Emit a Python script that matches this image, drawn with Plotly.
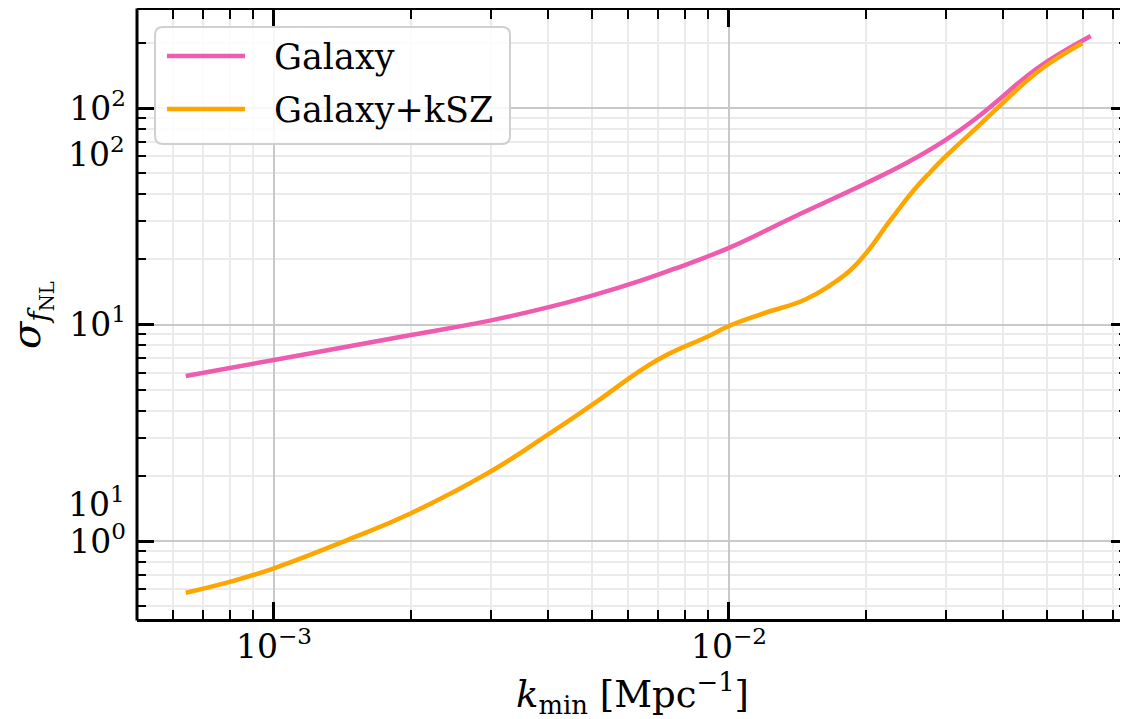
import plotly.graph_objects as go
import numpy as np

# ---- data ----
k_galaxy = [6.40e-4, 1.0e-3, 2.0e-3, 3.0e-3, 4.0e-3, 5.0e-3, 6.4e-3, 7.57e-3, 1.0e-2,
            1.366e-2, 2.0e-2, 2.466e-2, 2.99e-2, 3.455e-2, 3.99e-2, 4.45e-2, 5.0e-2, 6.24e-2]
sigma_galaxy = [5.78, 6.86, 8.94, 10.45, 12.0, 13.6, 15.95, 18.05, 22.6,
                30.9, 44.9, 56.0, 71.1, 88.0, 112.8, 137.0, 163.7, 215.0]

k_ksz = [6.40e-4, 8.03e-4, 1.0e-3, 1.449e-3, 2.0e-3, 3.0e-3, 4.0e-3, 5.0e-3,
         6.96e-3, 8.96e-3, 1.0e-2, 1.194e-2, 1.463e-2, 1.673e-2, 1.851e-2, 2.0e-2,
         2.266e-2, 2.55e-2, 2.775e-2, 2.99e-2, 3.455e-2, 3.99e-2, 4.45e-2, 5.0e-2, 5.976e-2]
sigma_ksz = [0.577, 0.649, 0.748, 1.01, 1.343, 2.1, 3.1, 4.25,
             6.86, 8.78, 9.84, 11.27, 12.98, 15.22, 17.85, 21.3,
             30.4, 41.8, 50.8, 59.6, 79.1, 105.1, 130.0, 158.0, 199.0]

series_names = ["Galaxy", "Galaxy+kSZ"]
series_colors = ["#EF5BAE", "#FFA500"]

x_major = [1e-3, 1e-2]
x_major_text = ["10<sup>−3</sup>", "10<sup>−2</sup>"]
y_major = [1, 10, 100]
y_major_text = ["10<sup>0</sup>", "10<sup>1</sup>", "10<sup>2</sup>"]
# extra (odd) y labels present in the reference
y_extra_vals = [1.5, 62.5]
y_extra_text = ["10<sup>1</sup>", "10<sup>2</sup>"]

x_minor = [m * 10.0 ** e for e in (-4, -3, -2) for m in range(2, 10)]
y_minor = [m * 10.0 ** e for e in (-1, 0, 1, 2) for m in range(2, 10)]

FONT = "DejaVu Serif"
W, H = 1120, 711
L, T, R, B = 129, 2, 0, 100
PW, PH = W - L - R, H - T - B
PX_DEC_X, PX_DEC_Y = 455.0, 216.5

x_lo = np.log10(5e-4)
x_hi = x_lo + PW / PX_DEC_X
y_lo = -0.3603
y_hi = y_lo + PH / PX_DEC_Y


def px(fx):  # figure pixel -> paper x
    return (fx - L) / PW


def py(fy):  # figure pixel -> paper y
    return 1 - (fy - T) / PH


fig = go.Figure()
for k, s, name, col in zip([k_galaxy, k_ksz], [sigma_galaxy, sigma_ksz], series_names, series_colors):
    fig.add_trace(go.Scatter(x=k, y=s, mode="lines", name=name, showlegend=False,
                             line=dict(color=col, width=4.5, shape="spline", smoothing=1.3)))

axis_common = dict(
    type="log", ticks="inside", ticklen=17, tickwidth=2.5, tickcolor="black",
    mirror="allticks", showgrid=True, gridcolor="#c9c9c9", gridwidth=1.5,
    tickfont=dict(family=FONT, size=33, color="black"),
    minor=dict(ticks="inside", ticklen=9, tickwidth=2, tickcolor="black",
               showgrid=True, gridcolor="#ebebeb", gridwidth=1.5, tickmode="array"),
)

fig.update_xaxes(**axis_common)
fig.update_xaxes(range=[x_lo, x_hi], tickmode="array", tickvals=x_major, ticktext=x_major_text,
                 showline=True, linecolor="black", linewidth=3,
                 minor_tickvals=x_minor, ticklabelstandoff=-4)
fig.update_yaxes(**axis_common)
fig.update_yaxes(range=[y_lo, y_hi], tickmode="array", tickvals=y_major, ticktext=y_major_text,
                 showline=False, minor_tickvals=y_minor, ticklabelstandoff=10)

# left spine (the right spine falls outside the canvas in the reference)
fig.add_shape(type="line", xref="paper", yref="paper", x0=0, x1=0, y0=py(H - B + 1.5), y1=py(T - 1.5),
              line=dict(color="black", width=3))

for v, t in zip(y_extra_vals, y_extra_text):
    fig.add_annotation(x=0, xref="paper", y=np.log10(v), yref="y", text=t,
                       showarrow=False, xanchor="right", xshift=-10,
                       font=dict(family=FONT, size=33, color="black"))

# axis titles
fig.add_annotation(x=px(624), y=py(685), xref="paper", yref="paper",
                   text="<i>k</i><sub>min</sub> [Mpc<sup>−1</sup>]", showarrow=False,
                   xanchor="center", yanchor="middle",
                   font=dict(family=FONT, size=37, color="black"))
fig.add_annotation(x=px(23), y=py(307), xref="paper", yref="paper",
                   text="<i>σ</i><sub><i>f</i><sub>NL</sub></sub>", showarrow=False,
                   textangle=-90, xanchor="center", yanchor="middle",
                   font=dict(family=FONT, size=40, color="black"))

# legend (drawn by hand to match the reference's long line samples)
bx0, bx1, by0, by1, r = 147, 502, 19, 136, 8
path = (f"M {px(bx0 + r)},{py(by0)} L {px(bx1 - r)},{py(by0)} "
        f"Q {px(bx1)},{py(by0)} {px(bx1)},{py(by0 + r)} L {px(bx1)},{py(by1 - r)} "
        f"Q {px(bx1)},{py(by1)} {px(bx1 - r)},{py(by1)} L {px(bx0 + r)},{py(by1)} "
        f"Q {px(bx0)},{py(by1)} {px(bx0)},{py(by1 - r)} L {px(bx0)},{py(by0 + r)} "
        f"Q {px(bx0)},{py(by0)} {px(bx0 + r)},{py(by0)} Z")
fig.add_shape(type="path", xref="paper", yref="paper", path=path,
              fillcolor="rgba(255,255,255,0.85)", line=dict(color="#d0d0d0", width=2))
for i, (name, col) in enumerate(zip(series_names, series_colors)):
    ly = 48 + 53 * i
    fig.add_shape(type="line", xref="paper", yref="paper", x0=px(159), x1=px(237), y0=py(ly), y1=py(ly),
                  line=dict(color=col, width=4.5))
    fig.add_annotation(x=px(264), y=py(ly + 1), xref="paper", yref="paper", text=name,
                       showarrow=False, xanchor="left", yanchor="middle",
                       font=dict(family=FONT, size=35, color="black"))

fig.update_layout(
    width=W, height=H,
    margin=dict(l=L, t=T, r=R, b=B),
    paper_bgcolor="white", plot_bgcolor="white",
    showlegend=False,
)

fig.write_html("out.html")
